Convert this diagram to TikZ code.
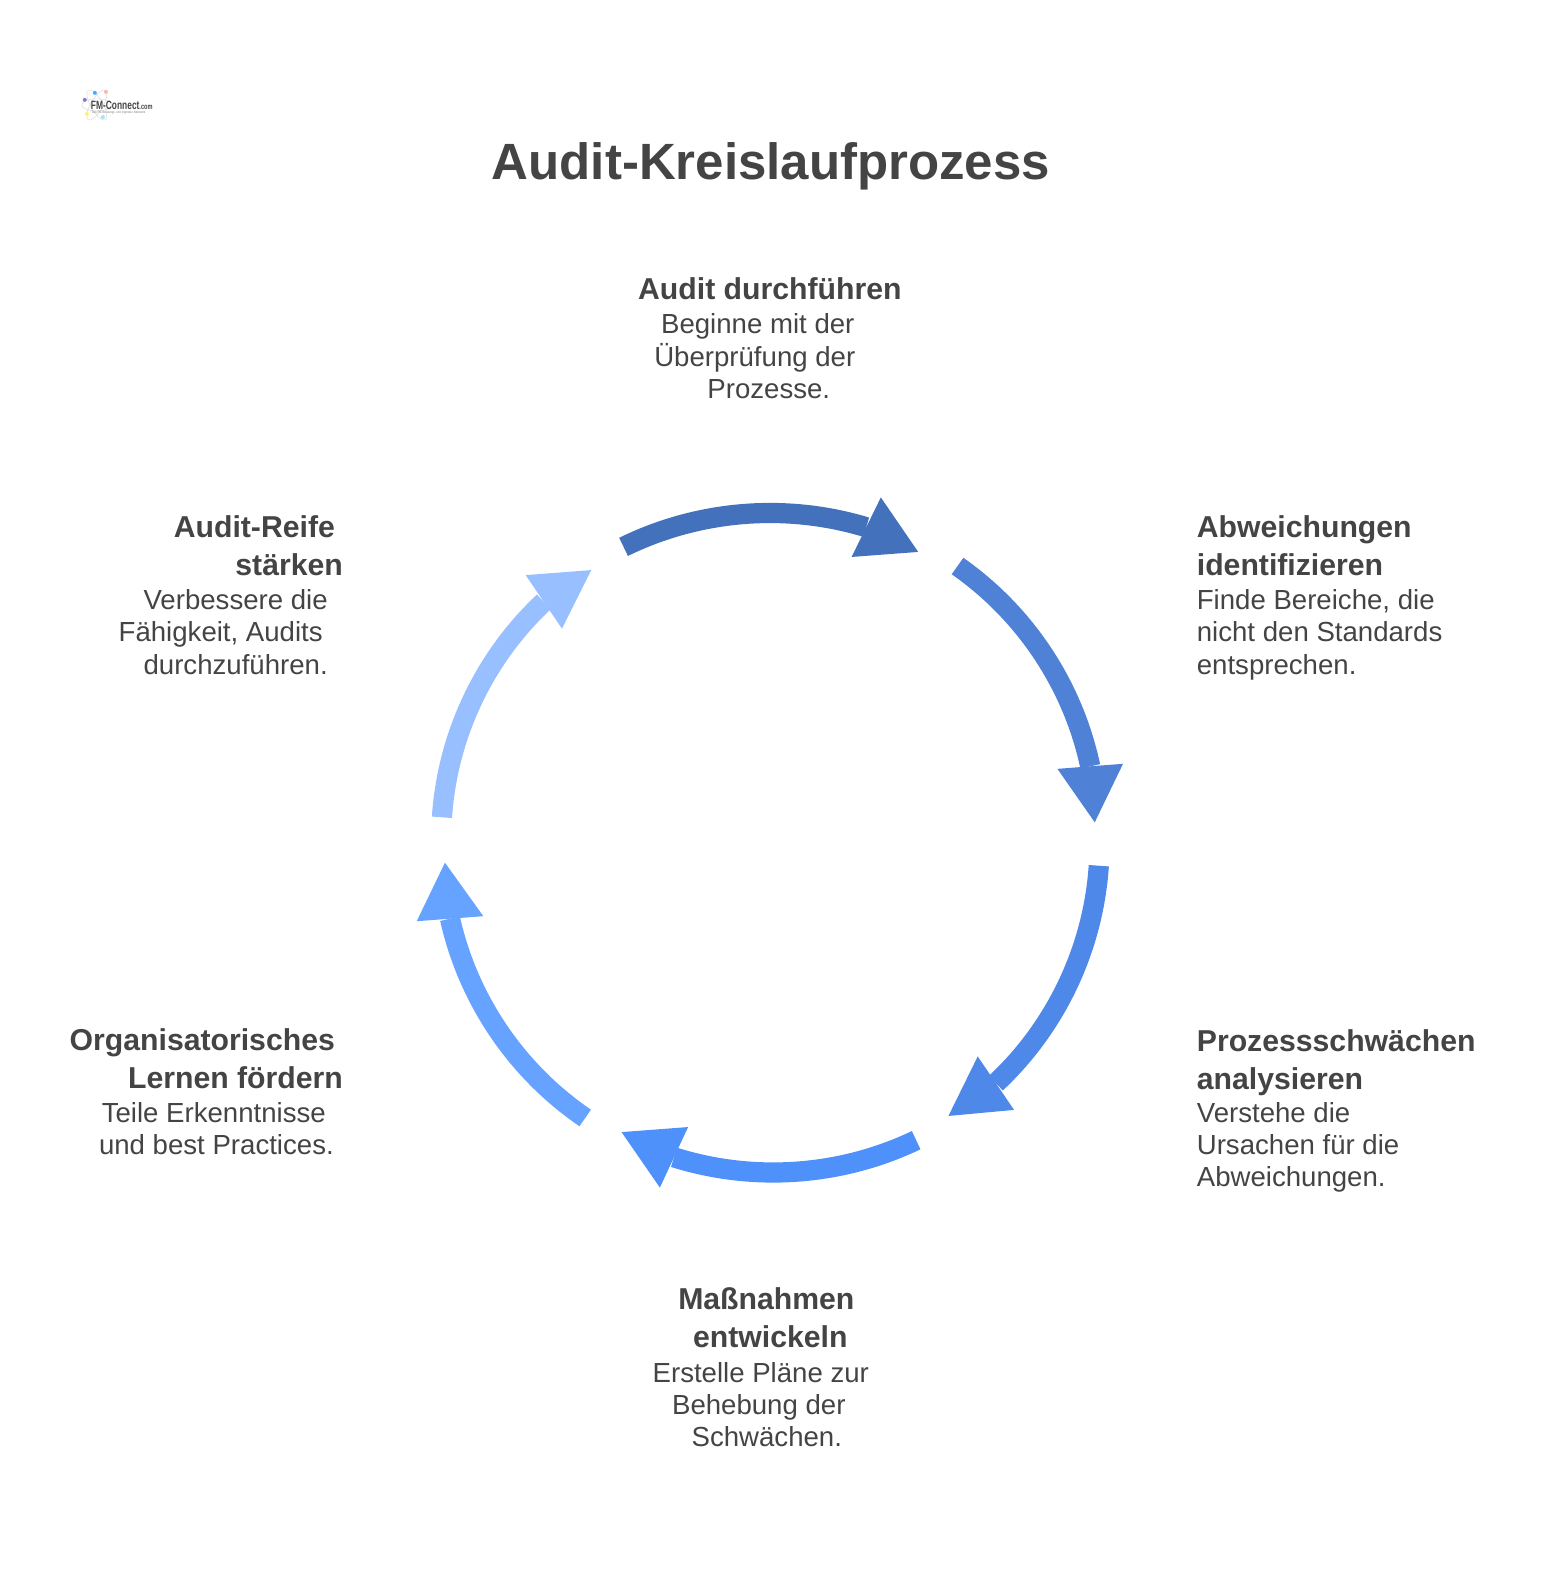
\documentclass[tikz,border=0pt]{standalone}
\usepackage{fontspec}
\setmainfont{Liberation Sans}
\definecolor{testo}{HTML}{444444}
\definecolor{arcoA}{HTML}{4371BC}
\definecolor{arcoB}{HTML}{4F81D7}
\definecolor{arcoC}{HTML}{4E88E8}
\definecolor{arcoD}{HTML}{4F91FA}
\definecolor{arcoE}{HTML}{66A2FF}
\definecolor{arcoF}{HTML}{98BFFF}
\tikzset{
  flow/.style={line width=20.2pt,bend left=21.5,looseness=.882},
  title/.style={text=testo,font=\fontsize{51}{60}\selectfont\bfseries,inner sep=0pt},
  head/.style={text=testo,font=\fontsize{30.2}{37.8}\selectfont\bfseries,inner sep=0pt},
  body/.style={text=testo,font=\fontsize{27.6}{32.3}\selectfont,inner sep=0pt},
}
\begin{document}
\begin{tikzpicture}[x=1.009pt,y=-1.009pt]
\useasboundingbox (0,0) rectangle (1544.1,1568.9);
% logo
  \draw[gray!30,line width=.5pt] (96,104) ellipse (15 and 6);
  \draw[gray!30,line width=.5pt,rotate around={60:(96,104)}] (96,104) ellipse (17 and 6);
  \draw[gray!30,line width=.5pt,rotate around={-60:(96,104)}] (96,104) ellipse (17 and 6);
  \fill[blue!45!gray!70] (84,99) circle (2);
  \fill[blue!50!cyan!70] (94,92) circle (2);
  \fill[red!30] (105,91) circle (2);
  \fill[yellow!60] (86,113) circle (2);
  \fill[cyan!35] (102,116) circle (2);
  \node[inner sep=0pt,anchor=west,xscale=.7,transform shape,font=\fontsize{12}{12}\selectfont\bfseries,text=testo] (logo) at (90,104) {FM-Connect\fontsize{8}{8}\selectfont .com};
  \node[inner sep=0pt,anchor=west,xscale=.8,transform shape,font=\fontsize{3.4}{4}\selectfont,text=gray] (logosub) at (91,112) {Das FM-Beratungs- und Ingenieur-Netzwerk};
% titolo
  \node[title] (titolo) at (764,165) {Audit-Kreislaufprozess};
% primo blocco
  \node[head,anchor=base] (auditH) at (763,297) {Audit durchführen};
  \node[body,anchor=north,align=center] (auditB) at (755,311) {Beginne mit der\kern8pt\\Überprüfung der\kern14pt\\\kern14pt Prozesse.};
% secondo blocco
  \node[head,anchor=north west,align=left] (abwH) at (1186,511) {Abweichungen\\identifizieren};
  \node[body,anchor=north west,align=left] (abwB) at (1186,584) {Finde Bereiche, die\\nicht den Standards\\entsprechen.};
% terzo blocco
  \node[head,anchor=north west,align=left] (proH) at (1186,1020) {Prozessschwächen\\analysieren};
  \node[body,anchor=north west,align=left] (proB) at (1186,1092) {Verstehe die\\Ursachen für die\\Abweichungen.};
% quarto blocco
  \node[head,anchor=north,align=center] (masH) at (761,1276) {Maßnahmen\kern3pt\\\kern5pt entwickeln};
  \node[body,anchor=north,align=center] (masB) at (756,1350) {Erstelle Pläne zur\kern4pt\\Behebung der\kern8pt\\\kern8pt Schwächen.};
% quinto blocco
  \node[head,anchor=north east,align=right] (orgH) at (340,1019.5) {Organisatorisches\kern8pt\\Lernen fördern};
  \node[body,anchor=north east,align=right] (orgB) at (331,1092) {Teile Erkenntnisse\kern8pt\\und best Practices.};
% sesto blocco
  \node[head,anchor=north east,align=right] (reiH) at (340,511) {Audit-Reife\kern8pt\\stärken};
  \node[body,anchor=north east,align=right] (reiB) at (325,584) {Verbessere die\\Fähigkeit, Audits\kern5pt\\durchzuführen.};
% prima freccia
  \coordinate (t1) at (618,542); \coordinate (b1) at (858.5,522.5);
  \coordinate (p1) at (910,547); \coordinate (l1) at (873,493); \coordinate (r1) at (844,552);
  \draw[flow,arcoA] (t1) to (b1);
  \fill[arcoA] (p1) -- (l1) -- (r1) -- cycle;
% seconda freccia
  \coordinate (t2) at (949,561); \coordinate (b2) at (1080.5,759.5);
  \coordinate (p2) at (1085,815); \coordinate (l2) at (1113,757); \coordinate (r2) at (1048,762);
  \draw[flow,arcoB] (t2) to (b2);
  \fill[arcoB] (p2) -- (l2) -- (r2) -- cycle;
% terza freccia
  \coordinate (t3) at (1089,858); \coordinate (b3) at (987,1073.5);
  \coordinate (p3) at (940,1106); \coordinate (l3) at (1005,1100); \coordinate (r3) at (969,1047);
  \draw[flow,arcoC] (t3) to (b3);
  \fill[arcoC] (p3) -- (l3) -- (r3) -- cycle;
% quarta freccia
  \coordinate (t4) at (908,1130); \coordinate (b4) at (668,1147);
  \coordinate (p4) at (616,1122); \coordinate (l4) at (654,1177); \coordinate (r4) at (682,1117);
  \draw[flow,arcoD] (t4) to (b4);
  \fill[arcoD] (p4) -- (l4) -- (r4) -- cycle;
% quinta freccia
  \coordinate (t5) at (580,1108); \coordinate (b5) at (446,910.5);
  \coordinate (p5) at (441,855); \coordinate (l5) at (413,913); \coordinate (r5) at (479,908);
  \draw[flow,arcoE] (t5) to (b5);
  \fill[arcoE] (p5) -- (l5) -- (r5) -- cycle;
% sesta freccia
  \coordinate (t6) at (438,810); \coordinate (b6) at (539,596.5);
  \coordinate (p6) at (586,565); \coordinate (l6) at (521,570); \coordinate (r6) at (557,623);
  \draw[flow,arcoF] (t6) to (b6);
  \fill[arcoF] (p6) -- (l6) -- (r6) -- cycle;
\end{tikzpicture}
\end{document}
